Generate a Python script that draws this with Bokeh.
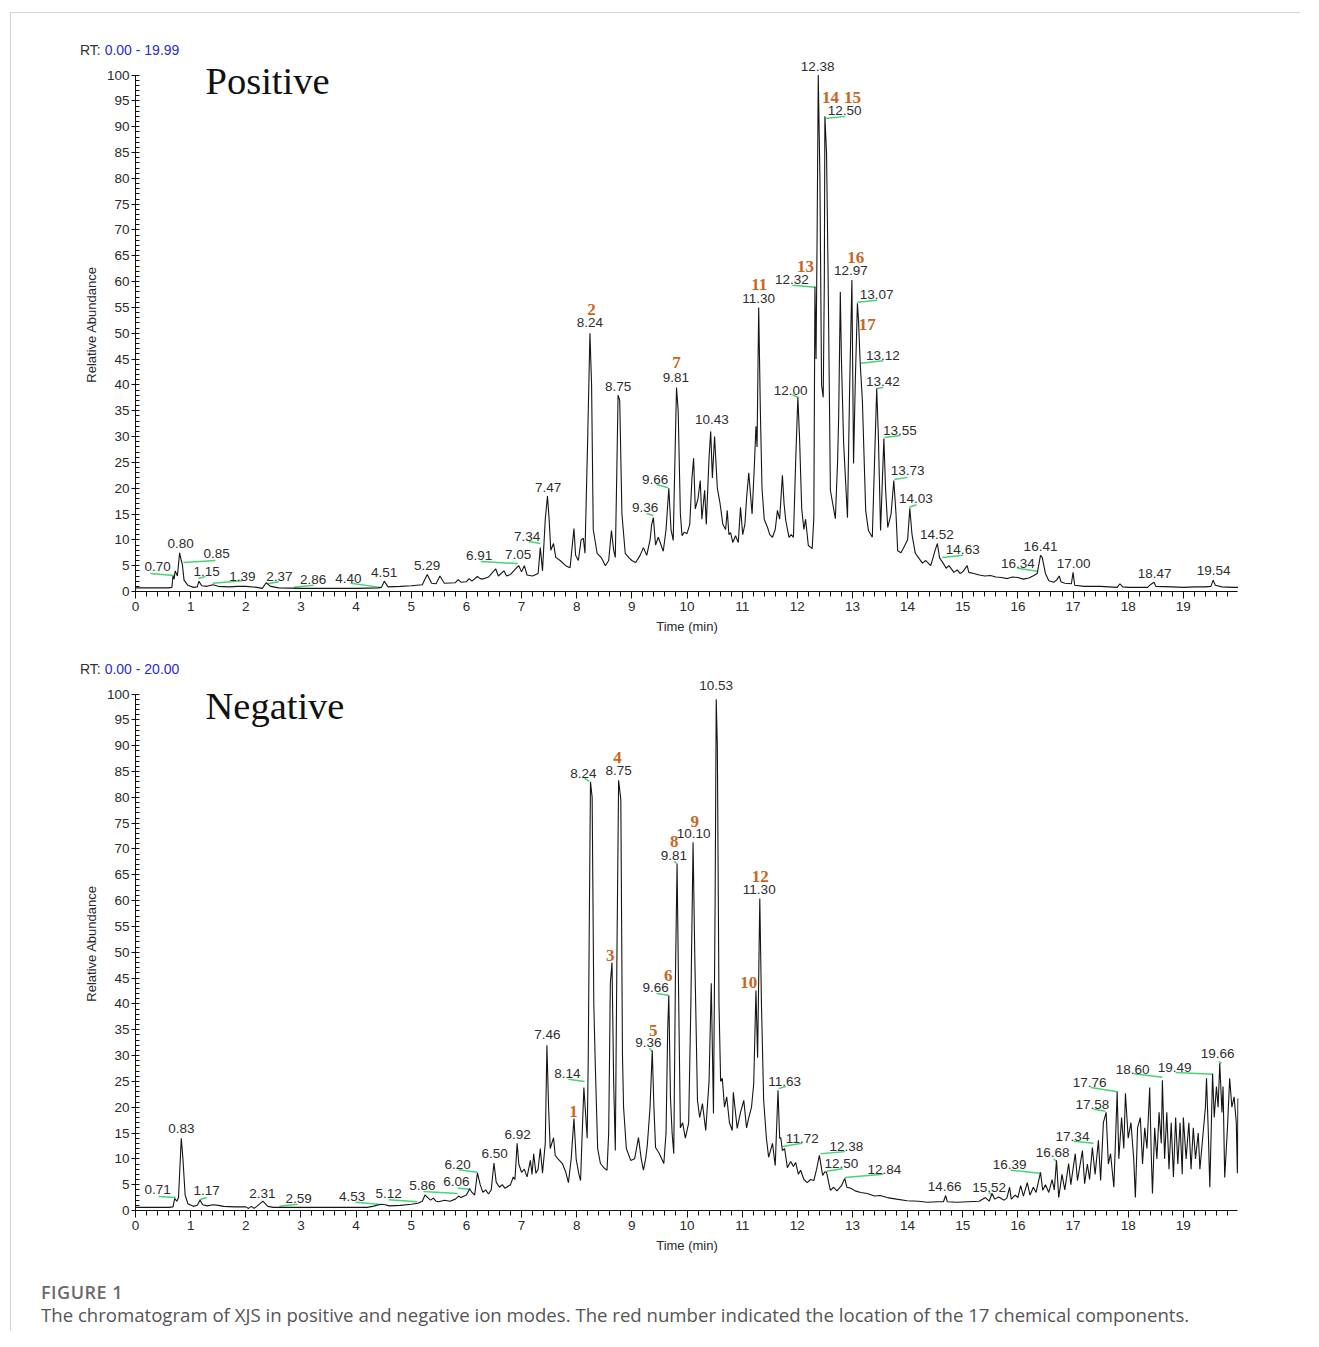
from bokeh.plotting import figure
from bokeh.models import ColumnDataSource, Label, SingleIntervalTicker, Range1d, Div
from bokeh.layouts import column
from bokeh.core.properties import value
from bokeh.embed import file_html
from bokeh.resources import INLINE

# ---------------- Positive ion mode trace (time in min, relative abundance %) ----------------
pos_time = [
    0.00, 0.30, 0.60, 0.66, 0.68, 0.70, 0.72, 0.76, 0.80, 0.83, 0.85, 0.88, 0.95, 1.05, 1.12, 1.15, 1.20, 1.30, 1.40, 1.50,
    1.70, 1.85, 2.00, 2.20, 2.30, 2.37, 2.45, 2.60, 3.00, 3.50, 4.00, 4.40, 4.46, 4.51, 4.58, 4.80, 5.00, 5.20, 5.29, 5.37,
    5.45, 5.52, 5.60, 5.80, 5.85, 5.90, 6.00, 6.05, 6.10, 6.20, 6.25, 6.30, 6.40, 6.53, 6.58, 6.68, 6.73, 6.80, 6.90, 6.95,
    7.00, 7.05, 7.10, 7.20, 7.30, 7.34, 7.38, 7.43, 7.47, 7.50, 7.53, 7.58, 7.62, 7.70, 7.80, 7.88, 7.95, 7.98, 8.03, 8.08,
    8.12, 8.15, 8.20, 8.24, 8.27, 8.30, 8.37, 8.45, 8.52, 8.58, 8.63, 8.67, 8.70, 8.73, 8.75, 8.78, 8.82, 8.88, 8.95, 9.00,
    9.07, 9.15, 9.21, 9.27, 9.33, 9.36, 9.39, 9.43, 9.48, 9.52, 9.57, 9.62, 9.67, 9.71, 9.75, 9.78, 9.81, 9.84, 9.88, 9.91,
    9.95, 10.00, 10.05, 10.09, 10.12, 10.15, 10.20, 10.24, 10.27, 10.32, 10.35, 10.40, 10.43, 10.46, 10.50, 10.55, 10.60, 10.65, 10.70, 10.73,
    10.76, 10.79, 10.83, 10.88, 10.93, 10.97, 11.01, 11.05, 11.08, 11.12, 11.15, 11.18, 11.22, 11.25, 11.27, 11.30, 11.33, 11.36, 11.40, 11.46,
    11.50, 11.55, 11.60, 11.64, 11.68, 11.73, 11.76, 11.79, 11.85, 11.89, 11.93, 11.97, 12.01, 12.04, 12.08, 12.12, 12.15, 12.20, 12.27, 12.30,
    12.32, 12.34, 12.36, 12.38, 12.41, 12.44, 12.47, 12.49, 12.50, 12.53, 12.56, 12.60, 12.69, 12.73, 12.75, 12.78, 12.80, 12.84, 12.91, 12.95,
    12.99, 13.02, 13.05, 13.09, 13.11, 13.14, 13.18, 13.24, 13.29, 13.36, 13.40, 13.44, 13.47, 13.51, 13.57, 13.60, 13.64, 13.70, 13.75, 13.79,
    13.82, 13.88, 13.93, 14.00, 14.04, 14.08, 14.14, 14.20, 14.27, 14.33, 14.42, 14.50, 14.54, 14.58, 14.65, 14.70, 14.75, 14.84, 14.90, 14.95,
    15.00, 15.08, 15.11, 15.20, 15.30, 15.40, 15.50, 15.60, 15.70, 15.81, 15.90, 16.00, 16.10, 16.20, 16.29, 16.35, 16.41, 16.44, 16.50, 16.56,
    16.65, 16.70, 16.75, 16.78, 16.85, 16.97, 17.00, 17.03, 17.20, 17.50, 17.80, 17.85, 17.90, 18.00, 18.20, 18.35, 18.40, 18.47, 18.50, 18.80,
    19.00, 19.20, 19.40, 19.50, 19.54, 19.58, 19.70, 19.90, 19.99,
]
pos_abund = [
    0.7, 0.7, 0.7, 0.8, 3.0, 2.4, 4.0, 3.0, 7.5, 6.0, 5.2, 2.2, 1.2, 0.8, 0.9, 2.0, 1.1, 1.0, 1.3, 1.0,
    0.9, 1.0, 1.0, 0.8, 0.6, 1.7, 1.0, 0.7, 0.6, 0.6, 0.6, 0.7, 0.8, 2.0, 0.9, 1.0, 1.1, 1.3, 3.3, 1.6,
    1.5, 3.0, 1.6, 1.7, 2.3, 1.8, 1.9, 2.5, 2.0, 2.9, 2.5, 2.4, 2.8, 4.4, 3.0, 4.0, 3.0, 3.3, 4.5, 5.0,
    3.8, 5.0, 3.2, 3.0, 3.5, 8.5, 4.0, 14.0, 18.5, 14.0, 8.0, 9.3, 6.6, 6.0, 5.0, 4.6, 12.2, 7.0, 6.0, 10.0,
    10.3, 7.4, 30.0, 50.0, 40.0, 12.0, 7.4, 6.5, 5.0, 6.0, 11.8, 8.0, 6.6, 25.0, 38.0, 37.0, 15.0, 7.4, 6.5, 6.0,
    5.6, 7.0, 8.5, 7.0, 10.0, 13.0, 14.3, 9.0, 10.5, 9.3, 7.8, 12.0, 20.0, 12.0, 9.9, 25.0, 39.5, 35.0, 15.0, 10.8,
    11.5, 11.2, 13.0, 22.0, 25.8, 16.0, 18.0, 21.5, 14.0, 19.6, 13.0, 26.0, 31.0, 22.0, 30.0, 20.0, 17.0, 13.0, 12.0, 15.7,
    11.0, 11.4, 9.5, 10.8, 9.5, 16.3, 11.0, 13.0, 18.0, 23.0, 19.0, 15.0, 24.0, 32.0, 28.0, 55.0, 35.0, 20.0, 14.0, 12.4,
    11.0, 10.5, 12.0, 15.7, 14.0, 22.5, 17.0, 13.8, 10.5, 11.0, 10.5, 25.0, 37.6, 30.0, 16.0, 12.0, 14.0, 8.9, 8.3, 14.3,
    59.0, 45.0, 70.0, 100.0, 80.0, 40.0, 37.6, 60.0, 92.0, 85.0, 60.0, 19.6, 14.1, 25.0, 33.7, 58.0, 45.0, 28.7, 14.3, 40.0,
    60.3, 24.8, 40.0, 55.8, 52.5, 44.3, 37.0, 15.7, 11.8, 10.5, 25.0, 39.3, 30.0, 11.8, 29.6, 20.0, 12.4, 15.0, 21.5, 15.0,
    7.9, 7.5, 8.5, 10.0, 16.1, 11.0, 7.4, 6.5, 5.5, 6.0, 5.0, 8.0, 9.3, 6.5, 5.4, 4.5, 5.0, 3.7, 4.2, 3.5,
    3.8, 5.0, 3.7, 3.5, 3.2, 3.0, 3.1, 2.8, 2.7, 2.5, 2.8, 2.7, 2.4, 2.6, 3.1, 3.5, 7.0, 6.6, 3.5, 2.1,
    1.8, 2.2, 3.0, 1.9, 1.6, 1.5, 3.7, 1.2, 1.0, 1.0, 0.8, 1.5, 0.9, 0.8, 0.8, 0.8, 1.3, 1.8, 1.0, 0.9,
    0.8, 0.9, 0.9, 1.0, 2.2, 1.2, 0.9, 0.8, 0.8,
]

# ---------------- Negative ion mode trace ----------------
neg_time = [
    0.00, 0.30, 0.60, 0.68, 0.71, 0.75, 0.78, 0.83, 0.86, 0.90, 0.95, 1.05, 1.12, 1.17, 1.22, 1.30, 1.40, 1.50, 1.60, 1.80,
    2.00, 2.05, 2.10, 2.15, 2.20, 2.31, 2.40, 2.50, 3.00, 3.50, 4.00, 4.20, 4.30, 4.45, 4.53, 4.60, 4.80, 5.00, 5.12, 5.20,
    5.25, 5.30, 5.35, 5.40, 5.45, 5.50, 5.60, 5.70, 5.80, 5.86, 5.90, 6.00, 6.06, 6.10, 6.15, 6.20, 6.25, 6.30, 6.35, 6.40,
    6.45, 6.50, 6.54, 6.60, 6.65, 6.70, 6.80, 6.85, 6.88, 6.92, 6.95, 7.00, 7.05, 7.10, 7.16, 7.19, 7.22, 7.26, 7.30, 7.34,
    7.38, 7.43, 7.46, 7.49, 7.52, 7.58, 7.61, 7.66, 7.74, 7.80, 7.85, 7.90, 7.95, 7.99, 8.04, 8.07, 8.10, 8.13, 8.19, 8.21,
    8.23, 8.25, 8.28, 8.31, 8.34, 8.38, 8.43, 8.50, 8.55, 8.58, 8.61, 8.64, 8.67, 8.70, 8.73, 8.76, 8.80, 8.83, 8.85, 8.90,
    8.98, 9.05, 9.12, 9.17, 9.21, 9.25, 9.28, 9.33, 9.37, 9.40, 9.43, 9.50, 9.58, 9.62, 9.65, 9.67, 9.70, 9.73, 9.76, 9.79,
    9.82, 9.85, 9.88, 9.92, 9.97, 10.03, 10.07, 10.11, 10.14, 10.19, 10.23, 10.28, 10.34, 10.40, 10.44, 10.48, 10.51, 10.53, 10.55, 10.58,
    10.61, 10.64, 10.68, 10.72, 10.77, 10.82, 10.84, 10.91, 10.97, 11.03, 11.08, 11.12, 11.17, 11.21, 11.25, 11.28, 11.32, 11.35, 11.39, 11.44,
    11.48, 11.55, 11.60, 11.65, 11.68, 11.70, 11.73, 11.77, 11.82, 11.88, 11.93, 11.97, 12.02, 12.06, 12.12, 12.18, 12.24, 12.30, 12.35, 12.40,
    12.46, 12.50, 12.53, 12.60, 12.66, 12.72, 12.80, 12.86, 12.90, 12.97, 13.05, 13.15, 13.27, 13.40, 13.50, 13.63, 13.80, 13.99, 14.20, 14.36,
    14.55, 14.65, 14.69, 14.72, 14.90, 15.10, 15.30, 15.41, 15.48, 15.53, 15.58, 15.65, 15.75, 15.80, 15.85, 15.88, 15.95, 16.00, 16.05, 16.10,
    16.17, 16.22, 16.28, 16.33, 16.41, 16.45, 16.50, 16.56, 16.62, 16.66, 16.70, 16.74, 16.80, 16.85, 16.92, 16.96, 17.04, 17.08, 17.17, 17.21,
    17.26, 17.30, 17.35, 17.40, 17.46, 17.50, 17.55, 17.60, 17.64, 17.68, 17.74, 17.80, 17.83, 17.88, 17.92, 17.95, 18.00, 18.05, 18.10, 18.13,
    18.17, 18.22, 18.26, 18.30, 18.34, 18.39, 18.42, 18.44, 18.48, 18.52, 18.56, 18.60, 18.62, 18.66, 18.70, 18.74, 18.78, 18.82, 18.86, 18.90,
    18.94, 18.98, 19.00, 19.05, 19.10, 19.14, 19.18, 19.22, 19.27, 19.30, 19.35, 19.40, 19.42, 19.45, 19.48, 19.53, 19.56, 19.60, 19.63, 19.66,
    19.70, 19.72, 19.75, 19.80, 19.84, 19.88, 19.92, 19.96, 19.98, 19.99,
]
neg_abund = [
    0.6, 0.6, 0.6, 0.7, 2.3, 1.8, 2.5, 14.0, 10.0, 3.0, 1.3, 0.8, 1.0, 2.0, 1.1, 0.9, 1.1, 1.0, 0.8, 0.7,
    0.7, 0.4, 0.8, 0.4, 0.8, 1.8, 0.8, 0.6, 0.6, 0.6, 0.6, 0.6, 0.8, 1.2, 1.1, 0.9, 1.0, 1.2, 1.4, 1.8,
    3.0, 2.5, 2.0, 2.4, 1.8, 1.7, 2.0, 1.8, 2.2, 2.8, 2.5, 3.0, 4.2, 3.5, 3.0, 7.3, 5.0, 3.5, 4.0, 3.2,
    4.0, 9.2, 5.5, 4.5, 5.0, 4.3, 5.0, 6.5, 6.0, 13.0, 9.0, 7.4, 8.0, 6.5, 9.7, 7.0, 11.0, 7.2, 8.0, 12.0,
    7.2, 13.0, 32.0, 20.0, 12.0, 14.1, 10.7, 10.0, 9.1, 7.5, 5.4, 10.0, 17.8, 10.0, 7.0, 5.8, 15.0, 23.8, 14.0, 30.0,
    58.0, 83.0, 80.0, 40.0, 27.0, 12.0, 9.1, 8.2, 7.8, 15.0, 44.0, 48.0, 25.0, 11.6, 50.0, 83.3, 79.5, 30.0, 20.0, 12.0,
    9.7, 10.0, 14.1, 10.0, 7.8, 10.0, 12.6, 20.0, 31.0, 20.0, 12.2, 11.0, 9.1, 15.0, 35.0, 41.7, 21.9, 15.0, 11.0, 45.0,
    67.2, 40.0, 16.0, 17.0, 14.0, 16.9, 40.0, 71.3, 50.0, 21.3, 18.0, 20.7, 15.5, 25.0, 44.0, 18.8, 60.0, 99.0, 90.0, 40.0,
    25.0, 25.6, 20.0, 22.0, 17.0, 15.5, 22.9, 15.9, 19.0, 21.3, 16.0, 18.0, 20.0, 24.6, 42.6, 29.6, 60.4, 40.0, 21.3, 14.0,
    10.3, 13.0, 8.7, 23.3, 14.0, 14.1, 11.6, 12.0, 8.3, 9.5, 8.5, 9.3, 7.0, 7.8, 6.0, 5.4, 6.0, 5.8, 8.0, 10.7,
    6.8, 7.5, 7.4, 3.9, 4.5, 3.8, 4.8, 6.2, 4.5, 4.3, 3.8, 3.5, 3.3, 2.8, 2.9, 2.5, 2.2, 1.9, 1.8, 1.6,
    1.7, 1.7, 2.9, 1.7, 1.6, 1.7, 1.8, 2.5, 1.8, 3.3, 2.2, 2.6, 2.0, 2.4, 4.5, 2.2, 3.0, 2.5, 4.8, 2.8,
    5.4, 3.0, 4.5, 3.5, 7.4, 3.9, 5.0, 3.5, 6.0, 4.0, 9.7, 2.5, 7.0, 4.0, 9.1, 5.0, 11.0, 5.8, 11.6, 5.2,
    9.0, 6.0, 12.2, 7.0, 13.6, 5.8, 17.0, 19.0, 9.0, 11.0, 4.5, 23.0, 10.0, 18.0, 12.0, 22.7, 14.0, 17.0, 10.0, 2.5,
    16.0, 18.0, 9.0, 16.0, 12.0, 23.8, 10.0, 3.3, 16.0, 10.0, 19.0, 13.0, 25.2, 10.0, 19.0, 8.0, 17.0, 6.5, 18.0, 9.0,
    17.0, 7.0, 18.0, 10.0, 17.0, 8.0, 16.0, 10.0, 15.0, 8.0, 14.0, 20.0, 25.6, 16.0, 4.5, 26.5, 18.0, 24.0, 20.0, 28.5,
    19.0, 24.0, 6.4, 16.0, 25.6, 20.0, 22.0, 17.0, 7.2, 21.7,
]

# ---------------- Peak retention-time labels ----------------
pos_rt_text = ["0.70", "0.80", "0.85", "1.15", "1.39", "2.37", "2.86", "4.40", "4.51", "5.29",
               "6.91", "7.05", "7.34", "7.47", "8.24", "8.75", "9.36", "9.66", "9.81", "10.43",
               "11.30", "12.00", "12.32", "12.38", "12.50", "12.97", "13.07", "13.12", "13.42", "13.55",
               "13.73", "14.03", "14.52", "14.63", "16.34", "16.41", "17.00", "18.47", "19.54"]
pos_rt_t = [0.40, 0.82, 1.47, 1.29, 1.94, 2.61, 3.22, 3.86, 4.51, 5.29,
            6.23, 6.94, 7.10, 7.48, 8.24, 8.75, 9.24, 9.42, 9.80, 10.45,
            11.30, 11.88, 11.90, 12.37, 12.86, 12.97, 13.44, 13.55, 13.55, 13.86,
            14.00, 14.15, 14.53, 15.00, 16.00, 16.41, 17.01, 18.48, 19.55]
pos_rt_v = [4.8, 9.3, 7.4, 3.9, 2.9, 2.9, 2.3, 2.5, 3.7, 5.0,
            7.0, 7.2, 10.7, 20.2, 52.0, 39.7, 16.3, 21.7, 41.5, 33.3,
            56.8, 39.0, 60.5, 101.7, 93.2, 62.2, 57.5, 45.7, 40.7, 31.2,
            23.4, 18.0, 11.0, 8.1, 5.4, 8.7, 5.4, 3.5, 4.1]

neg_rt_text = ["0.71", "0.83", "1.17", "2.31", "2.59", "4.53", "5.12", "5.86", "6.06", "6.20",
               "6.50", "6.92", "7.46", "8.14", "8.24", "8.75", "9.36", "9.66", "9.81", "10.10",
               "10.53", "11.30", "11.63", "11.72", "12.38", "12.50", "12.84", "14.66", "15.52", "16.39",
               "16.68", "17.34", "17.58", "17.76", "18.60", "19.49", "19.66"]
neg_rt_t = [0.40, 0.83, 1.29, 2.30, 2.96, 3.93, 4.59, 5.20, 5.82, 5.84,
            6.51, 6.93, 7.47, 7.83, 8.12, 8.76, 9.30, 9.43, 9.76, 10.12,
            10.53, 11.31, 11.77, 12.09, 12.89, 12.80, 13.58, 14.67, 15.48, 15.85,
            16.63, 16.99, 17.35, 17.30, 18.08, 18.84, 19.62]
neg_rt_v = [4.07, 15.9, 3.87, 3.29, 2.32, 2.71, 3.29, 4.84, 5.62, 8.91,
            11.04, 14.72, 34.08, 26.53, 84.62, 85.2, 32.53, 43.18, 68.75, 73.0,
            101.7, 62.16, 24.98, 13.94, 12.39, 9.1, 7.94, 4.65, 4.45, 8.91,
            11.23, 14.33, 20.53, 24.79, 27.3, 27.69, 30.4]

# ---------------- Component numbers (red/orange) ----------------
pos_cmp_text = ["2", "7", "11", "13", "14", "15", "16", "17"]
pos_cmp_t = [8.27, 9.81, 11.31, 12.15, 12.60, 13.00, 13.06, 13.27]
pos_cmp_v = [54.6, 44.4, 59.5, 63.0, 95.7, 95.7, 64.7, 51.7]

neg_cmp_text = ["1", "3", "4", "5", "6", "8", "9", "10", "12"]
neg_cmp_t = [7.94, 8.61, 8.74, 9.39, 9.66, 9.77, 10.14, 11.12, 11.33]
neg_cmp_v = [19.2, 49.4, 87.8, 34.9, 45.5, 71.5, 75.4, 44.2, 64.7]

# ---------------- Green label leader lines ----------------
pos_g_t0 = [0.27, 0.87, 1.14, 1.40, 2.39, 2.87, 3.90, 6.26, 7.13, 9.27, 9.45, 11.91, 11.91, 12.51, 13.09, 13.15, 13.44, 13.58, 13.76, 14.03, 14.63, 15.99]
pos_g_v0 = [3.5, 5.6, 2.5, 1.6, 1.5, 0.8, 1.6, 5.8, 9.7, 15.1, 20.7, 38.1, 59.3, 91.6, 56.0, 44.2, 39.3, 29.8, 21.7, 16.3, 6.6, 4.5]
pos_g_t1 = [0.70, 1.45, 1.27, 1.94, 2.60, 3.23, 4.44, 6.93, 7.34, 9.39, 9.66, 12.02, 12.33, 12.87, 13.45, 13.56, 13.56, 13.87, 14.00, 14.16, 15.01, 16.36]
pos_g_v1 = [3.1, 6.0, 2.9, 2.1, 1.9, 1.2, 0.8, 5.4, 9.3, 14.7, 20.1, 37.6, 58.9, 92.0, 56.4, 44.7, 39.5, 30.2, 22.1, 16.8, 7.0, 3.9]

neg_g_t0 = [0.42, 1.16, 2.61, 3.99, 4.59, 5.22, 5.84, 5.86, 7.85, 8.14, 9.32, 9.45, 9.77, 11.66, 11.73, 12.42, 12.53, 12.86, 15.47, 15.87, 16.65, 17.01, 17.37, 17.32, 18.10, 18.86, 19.64]
neg_g_v0 = [2.7, 2.1, 0.8, 1.6, 2.1, 3.7, 4.3, 7.9, 25.4, 83.7, 31.4, 42.0, 67.6, 23.6, 12.4, 11.0, 7.6, 6.4, 3.5, 7.8, 10.0, 13.4, 19.6, 23.8, 26.5, 26.7, 28.9]
neg_g_t1 = [0.73, 1.29, 2.94, 4.41, 5.11, 5.84, 6.07, 6.20, 8.14, 8.23, 9.37, 9.66, 9.81, 11.79, 12.09, 12.87, 12.82, 13.56, 15.56, 16.41, 16.70, 17.37, 17.59, 17.81, 18.62, 19.53, 19.69]
neg_g_v1 = [2.5, 2.5, 1.2, 1.2, 1.7, 3.3, 4.1, 7.4, 25.0, 83.1, 30.8, 41.7, 67.2, 24.0, 13.0, 11.4, 8.1, 7.0, 2.9, 7.2, 9.5, 13.0, 19.2, 23.0, 25.8, 26.4, 28.5]

assert len(pos_time) == len(pos_abund)
assert len(neg_time) == len(neg_abund)

SANS = "Liberation Sans"
SERIF = "Liberation Serif"
Y_TOP = 103.4   # top of the plotting frame, in % abundance
FRAME_H = 534


def make_chart(time, abund, rt_text, rt_t, rt_v, c_text, c_t, c_v,
               g_t0, g_v0, g_t1, g_v1, mode, mode_y):
    p = figure(frame_width=1103, frame_height=FRAME_H,
               x_range=Range1d(0, 20), y_range=Range1d(0, Y_TOP),
               output_backend="svg", toolbar_location=None,
               min_border_left=124, min_border_right=62,
               min_border_top=0, min_border_bottom=49)
    p.outline_line_color = None
    p.grid.visible = False
    p.background_fill_color = "white"
    p.border_fill_color = "white"

    xa = p.xaxis[0]
    xa.ticker = SingleIntervalTicker(interval=1, num_minor_ticks=5)
    xa.bounds = (0, 19.99)
    xa.major_tick_out = 7
    xa.major_tick_in = 0
    xa.minor_tick_out = 5
    xa.minor_tick_in = 0
    xa.major_label_standoff = 3
    xa.axis_label = "Time (min)"
    xa.axis_label_standoff = 5

    ya = p.yaxis[0]
    ya.ticker = SingleIntervalTicker(interval=5, num_minor_ticks=5)
    ya.bounds = (0, 100)
    ya.major_tick_out = 4
    ya.major_tick_in = 3
    ya.minor_tick_out = 0
    ya.minor_tick_in = 4
    ya.major_label_standoff = 2
    ya.axis_label = "Relative Abundance"
    ya.axis_label_standoff = 5

    for ax in (xa, ya):
        ax.axis_line_color = "#111111"
        ax.major_tick_line_color = "#111111"
        ax.minor_tick_line_color = "#111111"
        ax.major_label_text_font = SANS
        ax.major_label_text_font_size = "13.5px"
        ax.major_label_text_color = "#2a2a2a"
        ax.axis_label_text_font = SANS
        ax.axis_label_text_font_size = "13px"
        ax.axis_label_text_font_style = "normal"
        ax.axis_label_text_color = "#2a2a2a"

    # leader lines
    gsrc = ColumnDataSource(dict(x0=g_t0, y0=g_v0, x1=g_t1, y1=g_v1))
    p.segment(x0="x0", y0="y0", x1="x1", y1="y1", source=gsrc,
              line_color="#46d474", line_width=1.5)

    # chromatogram trace
    p.line(time, abund, line_color="#151515", line_width=1.1)

    # RT labels
    lsrc = ColumnDataSource(dict(x=rt_t, y=rt_v, t=rt_text))
    p.text(x="x", y="y", text="t", source=lsrc, text_align="center",
           text_baseline="middle", text_font=value(SANS),
           text_font_size="13.5px", text_color="#2e2e2e")

    # component numbers
    csrc = ColumnDataSource(dict(x=c_t, y=c_v, t=c_text))
    p.text(x="x", y="y", text="t", source=csrc, text_align="center",
           text_baseline="middle", text_font=value(SERIF), text_font_style="bold",
           text_font_size="17px", text_color="#c8661f")

    # mode title
    p.add_layout(Label(x=70, y=mode_y, x_units="screen", y_units="screen", text=mode,
                       text_font=SERIF, text_font_size="38.5px", text_color="#111111",
                       text_baseline="alphabetic", text_align="left"))
    return p


def rt_header(rng, height, pad_top):
    return Div(text=("<div style=\"font-family:'Liberation Sans';font-size:14px;line-height:18px;"
                     "padding-top:%dpx;padding-left:69px;white-space:nowrap;\">"
                     "<span style=\"color:#333333\">RT:</span> "
                     "<span style=\"color:#2b2bd0\">%s</span></div>") % (pad_top, rng),
               width=1289, height=height, margin=(0, 0, 0, 0))


h1 = rt_header("0.00 - 19.99", 44, 28)
p1 = make_chart(pos_time, pos_abund, pos_rt_text, pos_rt_t, pos_rt_v,
                pos_cmp_text, pos_cmp_t, pos_cmp_v,
                pos_g_t0, pos_g_v0, pos_g_t1, pos_g_v1, "Positive", 511)
h2 = rt_header("0.00 - 20.00", 36, 20)
p2 = make_chart(neg_time, neg_abund, neg_rt_text, neg_rt_t, neg_rt_v,
                neg_cmp_text, neg_cmp_t, neg_cmp_v,
                neg_g_t0, neg_g_v0, neg_g_t1, neg_g_v1, "Negative", 505)

caption = Div(
    text=("<div style=\"font-family:'Open Sans';font-weight:600;font-size:18px;letter-spacing:0.5px;"
          "color:#6a6a6a;line-height:22px;margin-top:22px;padding-left:30px;\">FIGURE 1</div>"
          "<div style=\"font-family:'Open Sans';font-size:18.6px;color:#555555;line-height:24px;"
          "padding-left:30px;white-space:nowrap;\">The chromatogram of XJS in positive and negative ion modes. "
          "The red number indicated the location of the 17 chemical components.</div>"),
    width=1289, height=72, margin=(0, 0, 0, 0))

layout = column(h1, p1, h2, p2, caption, margin=(12, 0, 0, 10),
                styles={"border-top": "1px solid #d4d4d4", "border-left": "1px solid #d4d4d4"})

open("out.html", "w").write(file_html(layout, INLINE))
